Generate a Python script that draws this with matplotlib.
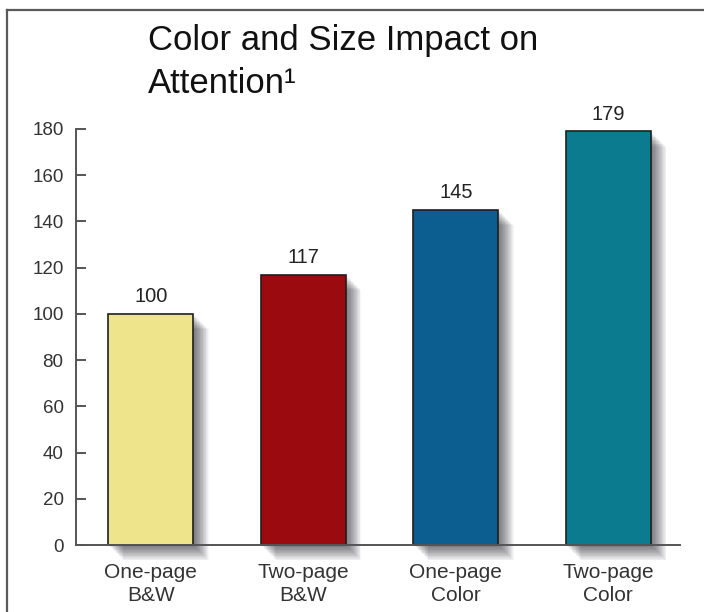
import matplotlib
matplotlib.use("Agg")
import matplotlib.pyplot as plt
import matplotlib.patheffects as pe
from matplotlib.lines import Line2D

# data
categories = ["One-page\nB&W", "Two-page\nB&W", "One-page\nColor", "Two-page\nColor"]
values = [100, 117, 145, 179]
bar_colors = ["#EDE48C", "#9A0A0E", "#0C5E91", "#0B7B8F"]
yticks = [0, 20, 40, 60, 80, 100, 120, 140, 160, 180]

plt.rcParams['font.family'] = ['Liberation Sans', 'DejaVu Sans']

fig = plt.figure(figsize=(7.04, 6.12), dpi=100)
ax = fig.add_axes([76/704, 1 - 545/612, (680 - 76)/704, (545 - 129)/612])

# soft drop shadow made of many offset, faint copies
shadow = []
for k in range(1, 21):
    shadow.append(pe.SimplePatchShadow(offset=(0.55*k, -0.55*k), shadow_rgbFace="#101018", alpha=0.035))
shadow.append(pe.Normal())

x = range(len(values))
bars = ax.bar(x, values, width=0.56, color=bar_colors, edgecolor="#1f1f1f", linewidth=1.2, zorder=3)
for b in bars:
    b.set_path_effects(shadow)
    b.set_clip_on(False)

for xi, v in zip(x, values):
    ax.annotate(str(v), (xi, v), xytext=(0, 5.5), textcoords="offset points",
                ha="center", va="bottom", fontsize=14.5, color="#222222")

ax.set_xlim(-0.49, 3.47)
ax.set_ylim(0, 180)
ax.set_yticks(yticks)
ax.set_xticks(list(x))
ax.set_xticklabels(categories, fontsize=15, color="#333333", linespacing=1.25)

for s in ["top", "right"]:
    ax.spines[s].set_visible(False)
for s in ["left", "bottom"]:
    ax.spines[s].set_color("#555555")
    ax.spines[s].set_linewidth(1.4)
    ax.spines[s].set_zorder(4)

ax.tick_params(axis="y", direction="in", length=7.5, width=1.4, color="#555555",
               labelsize=13.5, labelcolor="#333333", pad=9)
ax.tick_params(axis="x", length=0, pad=13)

# title, left aligned
fig.text(148/704, 1 - 50/612, "Color and Size Impact on", fontsize=25,
         ha="left", va="baseline", color="#111111")
fig.text(148/704, 1 - 93/612, "Attention\u00b9", fontsize=25,
         ha="left", va="baseline", color="#111111")

# outer frame (top and left edges only)
fig.add_artist(Line2D([6.5/704, 6.5/704], [0, 1 - 9.5/612], transform=fig.transFigure,
                      color="#5a5a5a", linewidth=1.6))
fig.add_artist(Line2D([6.5/704, 1], [1 - 9.5/612, 1 - 9.5/612], transform=fig.transFigure,
                      color="#5a5a5a", linewidth=1.6))

fig.savefig("out.png", dpi=100)
